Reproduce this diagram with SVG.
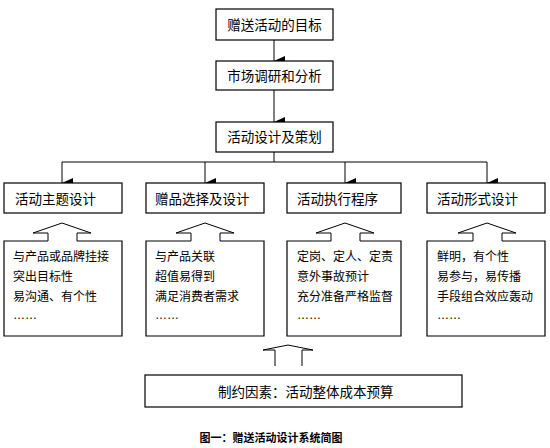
<svg xmlns="http://www.w3.org/2000/svg" width="550" height="448" viewBox="0 0 550 448">
<defs>
<marker id="ah" markerWidth="10" markerHeight="11" refX="5" refY="11" orient="auto-start-reverse" markerUnits="userSpaceOnUse" viewBox="0 0 10 11">
<path d="M0,0 L10,0 L5,11 Z" fill="#000"/>
</marker>
<style>
.box{fill:#fff;stroke:#000;stroke-width:1.2}
.ln{fill:none;stroke:#000;stroke-width:1}
.t{font-family:"Liberation Sans","Noto Sans CJK SC",sans-serif;font-size:13.5px;fill:#000;dominant-baseline:central}
.s{font-family:"Liberation Sans","Noto Sans CJK SC",sans-serif;font-size:12px;fill:#000;dominant-baseline:central}
.open{fill:#fff;stroke:#000;stroke-width:1}
</style>
</defs>
<rect width="550" height="448" fill="#fff"/>
<g id="connectors">
<line class="ln" x1="274" y1="40" x2="274" y2="61" marker-end="url(#ah)"/>
<line class="ln" x1="274" y1="90" x2="274" y2="122" marker-end="url(#ah)"/>
<polyline class="ln" points="274,152 274,162"/>
<polyline class="ln" points="62,183 62,162 487,162 487,183" marker-start="url(#ah)" marker-end="url(#ah)"/>
<line class="ln" x1="205" y1="162" x2="205" y2="183" marker-end="url(#ah)"/>
<line class="ln" x1="345" y1="162" x2="345" y2="183" marker-end="url(#ah)"/>
<polyline class="open" points="48,241 48,233 33,233 62,223 91,233 77,233 77,241"/>
<polyline class="open" points="191,241 191,233 176,233 205,223 234,233 220,233 220,241"/>
<polyline class="open" points="331,241 331,233 316,233 345,223 374,233 360,233 360,241"/>
<polyline class="open" points="473,241 473,233 458,233 487,223 516,233 502,233 502,241"/>
<polyline class="open" points="275,366 275,350 263,350 288,345 313,350 302,350 302,366"/>
</g>
<g id="n-goal">
<rect class="box" x="216" y="9" width="117" height="31"/>
<text class="t" x="274.5" y="25" text-anchor="middle">赠送活动的目标</text>
</g>
<g id="n-research">
<rect class="box" x="216" y="61" width="117" height="29"/>
<text class="t" x="274.5" y="76" text-anchor="middle">市场调研和分析</text>
</g>
<g id="n-plan">
<rect class="box" x="216" y="122" width="117" height="30"/>
<text class="t" x="274.5" y="137" text-anchor="middle">活动设计及策划</text>
</g>
<g id="n-theme">
<rect class="box" x="4" y="183" width="118" height="30"/>
<text class="t" x="15" y="199">活动主题设计</text>
</g>
<g id="n-gift">
<rect class="box" x="146" y="183" width="118" height="30"/>
<text class="t" x="155" y="199">赠品选择及设计</text>
</g>
<g id="n-exec">
<rect class="box" x="287" y="183" width="114" height="30"/>
<text class="t" x="297" y="199">活动执行程序</text>
</g>
<g id="n-form">
<rect class="box" x="427" y="183" width="118" height="30"/>
<text class="t" x="437" y="199">活动形式设计</text>
</g>
<g id="n-theme-detail">
<path class="box" d="M48,241 L4,241 L4,336 L122,336 L122,241 L77,241"/>
<text class="s" x="13" y="257">与产品或品牌挂接</text>
<text class="s" x="13" y="277">突出目标性</text>
<text class="s" x="13" y="297">易沟通、有个性</text>
<text class="s" x="13" y="315">……</text>
</g>
<g id="n-gift-detail">
<path class="box" d="M191,241 L146,241 L146,336 L264,336 L264,241 L220,241"/>
<text class="s" x="155" y="257">与产品关联</text>
<text class="s" x="155" y="277">超值易得到</text>
<text class="s" x="155" y="297">满足消费者需求</text>
<text class="s" x="155" y="315">……</text>
</g>
<g id="n-exec-detail">
<path class="box" d="M331,241 L287,241 L287,336 L401,336 L401,241 L360,241"/>
<text class="s" x="297" y="257">定岗、定人、定责</text>
<text class="s" x="297" y="277">意外事故预计</text>
<text class="s" x="297" y="297">充分准备严格监督</text>
<text class="s" x="297" y="315">……</text>
</g>
<g id="n-form-detail">
<path class="box" d="M473,241 L427,241 L427,336 L545,336 L545,241 L502,241"/>
<text class="s" x="437" y="257">鲜明，有个性</text>
<text class="s" x="437" y="277">易参与，易传播</text>
<text class="s" x="437" y="297">手段组合效应轰动</text>
<text class="s" x="437" y="315">……</text>
</g>
<g id="n-constraint">
<rect class="box" x="145" y="375" width="317" height="32"/>
<text class="t" x="218" y="392">制约因素：活动整体成本预算</text>
</g>
<g id="caption">
<text x="271" y="438" text-anchor="middle" font-family="'Liberation Sans','Noto Sans CJK SC',sans-serif" font-size="11" font-weight="bold" dominant-baseline="central">图一：赠送活动设计系统简图</text>
</g>
</svg>
